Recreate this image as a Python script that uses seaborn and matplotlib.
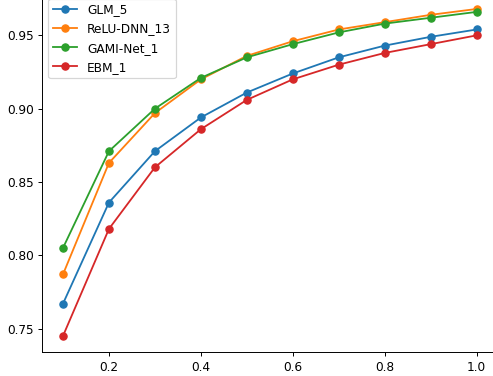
import pandas as pd
import seaborn as sns
import matplotlib.pyplot as plt

# data
x = [0.1, 0.2, 0.3, 0.4, 0.5, 0.6, 0.7, 0.8, 0.9, 1.0]
glm_5 = [0.767, 0.836, 0.871, 0.894, 0.911, 0.924, 0.935, 0.943, 0.949, 0.954]
relu_dnn_13 = [0.787, 0.863, 0.897, 0.920, 0.936, 0.946, 0.954, 0.959, 0.964, 0.968]
gami_net_1 = [0.805, 0.871, 0.900, 0.921, 0.935, 0.944, 0.952, 0.958, 0.962, 0.966]
ebm_1 = [0.745, 0.818, 0.860, 0.886, 0.906, 0.920, 0.930, 0.938, 0.944, 0.950]

models = ["GLM_5", "ReLU-DNN_13", "GAMI-Net_1", "EBM_1"]
series = [glm_5, relu_dnn_13, gami_net_1, ebm_1]
colors = sns.color_palette("tab10", 4)

DPI = 87
fig = plt.figure(figsize=(493 / DPI, 376 / DPI), dpi=DPI)
ax = fig.add_axes([42.3 / 493, 23.7 / 376, 455.1 / 493, 359.7 / 376])

for name, vals, c in zip(models, series, colors):
    df = pd.DataFrame({"x": x, "y": vals})
    sns.lineplot(data=df, x="x", y="y", ax=ax, color=c, label=name,
                 marker="o", markersize=6, markeredgecolor=c, markeredgewidth=1,
                 linewidth=1.5)

ax.set_xlabel("")
ax.set_ylabel("")
ax.set_xticks([0.2, 0.4, 0.6, 0.8, 1.0])
ax.set_yticks([0.75, 0.80, 0.85, 0.90, 0.95])
ax.legend(loc="upper left")
sns.despine(ax=ax)

fig.savefig("out.png", dpi=DPI)
